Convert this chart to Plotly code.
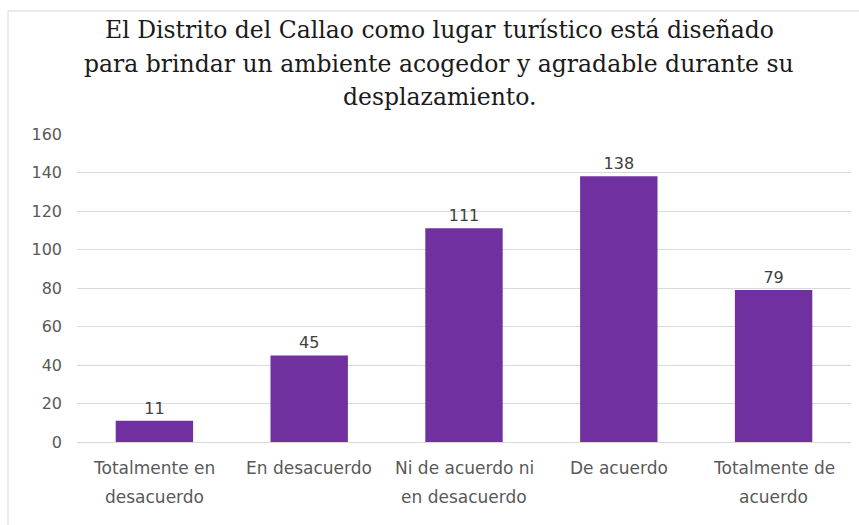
import plotly.graph_objects as go

# Survey responses for one Likert item
categories = [
    "Totalmente en desacuerdo",
    "En desacuerdo",
    "Ni de acuerdo ni en desacuerdo",
    "De acuerdo",
    "Totalmente de acuerdo",
]
label_lines = [
    ["Totalmente en", "desacuerdo"],
    ["En desacuerdo"],
    ["Ni de acuerdo ni", "en desacuerdo"],
    ["De acuerdo"],
    ["Totalmente de", "acuerdo"],
]
counts = [11, 45, 111, 138, 79]
y_ticks = [0, 20, 40, 60, 80, 100, 120, 140, 160]

title_lines = [
    "El Distrito del Callao como lugar turístico está diseñado",
    "para brindar un ambiente acogedor y agradable durante su",
    "desplazamiento.",
]

BAR = "#7030A0"
GRID = "#d9d9d9"
TICK = "#595959"
SANS = "'DejaVu Sans', sans-serif"
SERIF = "'DejaVu Serif', serif"

fig = go.Figure(
    go.Bar(
        x=categories,
        y=counts,
        marker=dict(color=BAR, line=dict(width=0)),
        text=[str(v) for v in counts],
        textposition="outside",
        textfont=dict(family=SANS, size=16, color="#404040"),
        cliponaxis=False,
        hoverinfo="skip",
    )
)

annotations = []

# two-line category labels below the axis
for cat, lines in zip(categories, label_lines):
    for i, line in enumerate(lines):
        annotations.append(dict(
            x=cat, xref="x", y=0, yref="paper",
            yshift=-26 - 29 * i, yanchor="middle",
            text=line, showarrow=False,
            font=dict(family=SANS, size=17, color=TICK),
        ))

# title, one annotation per line for tighter line spacing
for i, line in enumerate(title_lines):
    annotations.append(dict(
        x=0.5, xref="paper", y=1, yref="paper",
        xshift=-25, yshift=104 - 33.5 * i, yanchor="middle",
        text=line, showarrow=False,
        font=dict(family=SERIF, size=23.5, color="#1a1a1a"),
    ))

fig.update_layout(
    width=859, height=525,
    margin=dict(l=77, r=8, t=134, b=83),
    paper_bgcolor="white", plot_bgcolor="white",
    bargap=0.5,
    showlegend=False,
    annotations=annotations,
    shapes=[dict(
        type="rect", xref="paper", yref="paper",
        x0=-69 / 774, x1=1.2, y0=-1, y1=1 + 123 / 308,
        line=dict(color="#d9d9d9", width=1), layer="below",
    )],
)

fig.update_xaxes(
    showticklabels=False, showline=False, ticks="",
    showgrid=False,
)
fig.update_yaxes(
    range=[0, 160], tickvals=y_ticks,
    showgrid=True, gridcolor=GRID, gridwidth=1,
    zeroline=True, zerolinecolor=GRID, zerolinewidth=1,
    showline=False, ticks="",
    ticklabelstandoff=14,
    tickfont=dict(family=SANS, size=16, color=TICK),
)

fig.write_html("out.html")
